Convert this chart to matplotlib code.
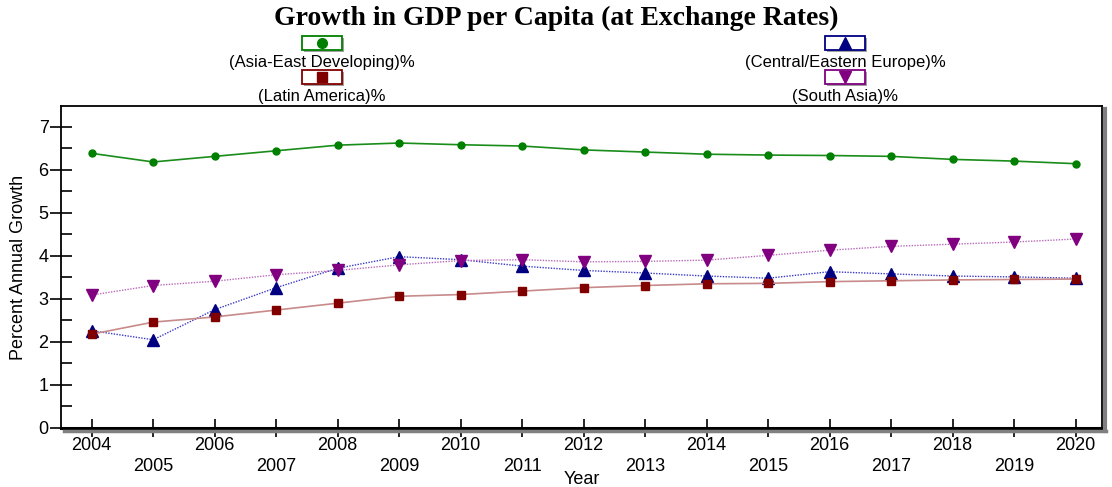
import matplotlib
matplotlib.use("Agg")
import matplotlib.pyplot as plt
from matplotlib.lines import Line2D
from matplotlib.patches import Rectangle
from matplotlib.ticker import MultipleLocator

# ---------------- data ----------------
YEARS = list(range(2004, 2021))

asia_east = [6.38, 6.18, 6.31, 6.44, 6.57, 6.62, 6.58, 6.55, 6.46, 6.41, 6.36, 6.34, 6.33, 6.31, 6.24, 6.20, 6.14]
central_europe = [2.26, 2.05, 2.75, 3.26, 3.71, 3.98, 3.91, 3.76, 3.66, 3.60, 3.53, 3.48, 3.63, 3.58, 3.53, 3.51, 3.48]
latin_america = [2.18, 2.46, 2.58, 2.74, 2.90, 3.06, 3.10, 3.18, 3.26, 3.31, 3.35, 3.36, 3.40, 3.42, 3.44, 3.45, 3.46]
south_asia = [3.09, 3.31, 3.41, 3.56, 3.66, 3.79, 3.89, 3.91, 3.86, 3.87, 3.90, 4.01, 4.13, 4.22, 4.27, 4.32, 4.39]

LABELS = ["(Asia-East Developing)%", "(Central/Eastern Europe)%",
          "(Latin America)%", "(South Asia)%"]

SANS = ["Liberation Sans", "DejaVu Sans"]

# ---------------- figure ----------------
fig = plt.figure(figsize=(11.12, 4.87), dpi=100)
W, H = 1112, 487


def fx(px):
    return px / W


def fy(py):
    return 1 - py / H


ax = fig.add_axes([fx(61), fy(428), fx(1102) - fx(61), fy(106) - fy(428)])

ax.plot(YEARS, asia_east, color="#1a8c1a", lw=1.2, marker="o", ms=5,
        mfc="#008000", mec="#008000", zorder=4)
ax.plot(YEARS, central_europe, color="#3a3ac8", lw=1.0, ls=(0, (1, 1)),
        marker="^", ms=9, mfc="#000080", mec="#000080", zorder=3)
ax.plot(YEARS, latin_america, color="#c88a8a", lw=1.2, marker="s", ms=6,
        mfc="#800000", mec="#800000", zorder=3)
ax.plot(YEARS, south_asia, color="#b86ab8", lw=1.0, ls=(0, (1, 1)),
        marker="v", ms=9, mfc="#800080", mec="#800080", zorder=3)

ax.set_xlim(2003.5, 2020.43)
ax.set_ylim(0, 7.48)
ax.yaxis.set_major_locator(MultipleLocator(1))
ax.yaxis.set_minor_locator(MultipleLocator(0.5))
ax.set_xticks(YEARS)
ax.set_xticklabels([str(y) if y % 2 == 0 else "\n" + str(y) for y in YEARS])
for lab in ax.get_xticklabels() + ax.get_yticklabels():
    lab.set_family(SANS)
for lab in ax.get_xticklabels():
    lab.set_linespacing(1.3)

ax.tick_params(axis="y", which="major", direction="inout", length=16, width=1.2,
               labelsize=13, pad=1)
ax.tick_params(axis="y", which="minor", direction="in", length=8, width=1.2)
ax.tick_params(axis="x", which="major", direction="inout", length=13, width=1.2,
               labelsize=13, pad=0)

for s in ax.spines.values():
    s.set_linewidth(1.3)
ax.spines["bottom"].set_linewidth(2.2)

ax.set_ylabel("Percent Annual Growth", family=SANS, fontsize=13, labelpad=8)
ax.set_xlabel("Year", family=SANS, fontsize=13, labelpad=-3)

# drop shadow on right and bottom
fig.add_artist(Line2D([fx(1105), fx(1105)], [fy(109), fy(431)],
                      color="#808080", lw=3, transform=fig.transFigure))
fig.add_artist(Line2D([fx(64), fx(1106)], [fy(431), fy(431)],
                      color="#808080", lw=2.5, transform=fig.transFigure))

# title
fig.text(0.5, fy(18), "Growth in GDP per Capita (at Exchange Rates)",
         ha="center", va="center", family="Liberation Serif",
         fontweight="bold", fontsize=20)

# legend drawn manually: box with marker, label below
legend_items = [
    (322, 43, "o", "#008000", LABELS[0], 7),
    (845, 43, "^", "#000080", LABELS[1], 9),
    (322, 77, "s", "#800000", LABELS[2], 7),
    (845, 77, "v", "#800080", LABELS[3], 9),
]
for cx, cy, mk, col, lab, ms in legend_items:
    bw, bh = 40, 14
    fig.add_artist(Rectangle((fx(cx - bw / 2 + 2), fy(cy + bh / 2 + 2)), fx(bw), fy(0) - fy(bh),
                             facecolor="#a0a0a0", edgecolor="none",
                             transform=fig.transFigure))
    fig.add_artist(Rectangle((fx(cx - bw / 2), fy(cy + bh / 2)), fx(bw), fy(0) - fy(bh),
                             facecolor="white", edgecolor=col, lw=1.3,
                             transform=fig.transFigure))
    fig.add_artist(Line2D([fx(cx)], [fy(cy)], marker=mk, ms=ms, mfc=col, mec=col,
                          ls="none", transform=fig.transFigure))
    fig.text(fx(cx), fy(cy + 20), lab, ha="center", va="center",
             family=SANS, fontsize=12)

fig.savefig("out.png", dpi=100)
